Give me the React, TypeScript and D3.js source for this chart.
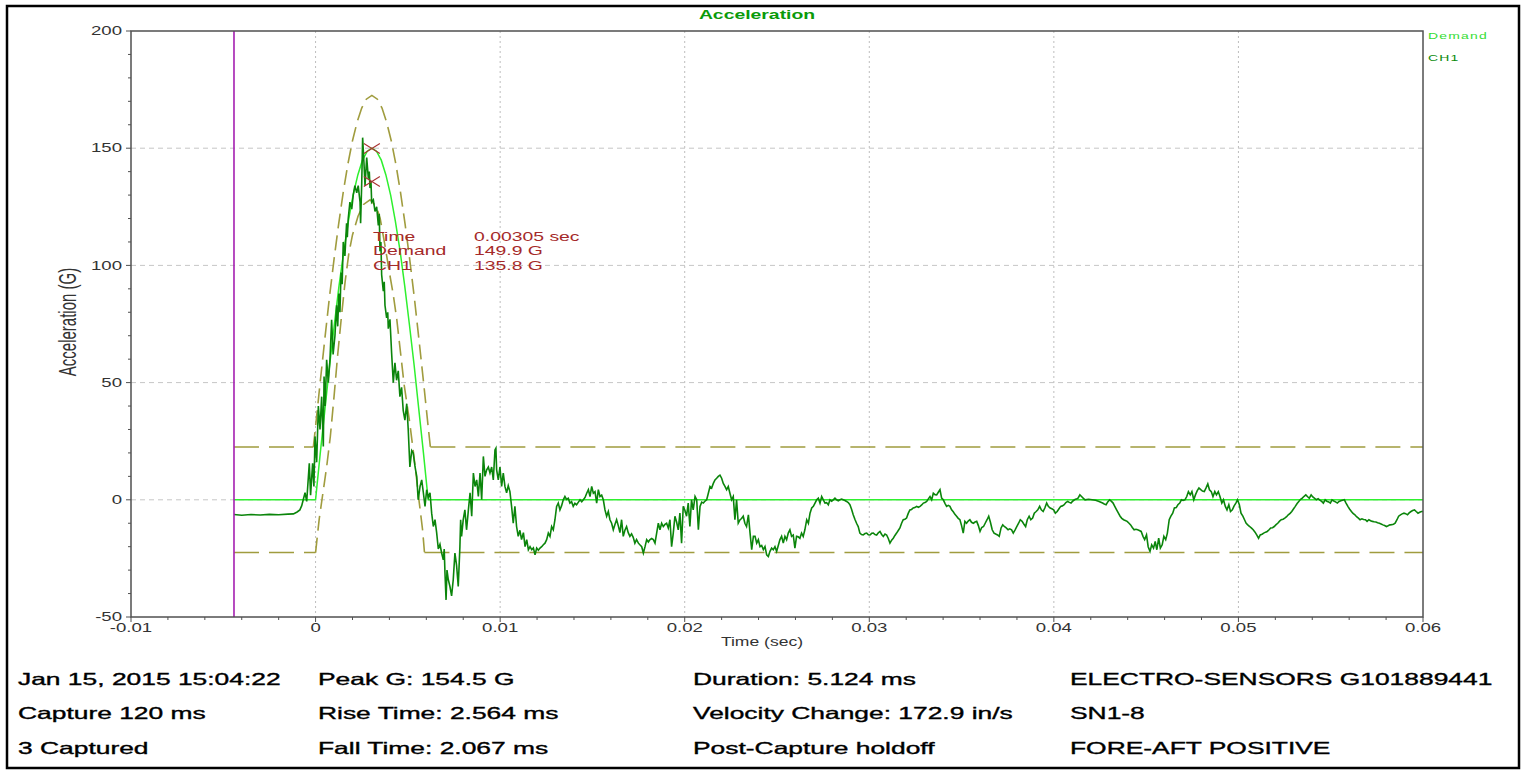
import React from "react";
import * as d3 from "d3";

// shock pulse record, time in ms, acceleration in G
const demand: [number, number][] = [
  [-4.42, 0], [0, 0], [0.25, 19.6], [0.51, 38.8], [0.76, 57.4], [1.02, 75], [1.27, 91.3],
  [1.53, 106.1], [1.78, 119], [2.03, 129.9], [2.29, 138.6], [2.54, 144.9], [2.8, 148.7],
  [3.05, 150], [3.3, 148.7], [3.56, 144.9], [3.81, 138.6], [4.07, 129.9], [4.32, 119],
  [4.58, 106.1], [4.83, 91.3], [5.08, 75], [5.34, 57.4], [5.59, 38.8], [5.85, 19.6],
  [6.1, 0], [60, 0],
];

const upperBand: [number, number][] = [
  [-0.12, 22.5], [0, 31.2], [0.25, 50.2], [0.5, 68.5], [0.75, 86.3], [1.0, 102.6],
  [1.25, 117.6], [1.5, 131.3], [1.75, 143.2], [2.0, 153.2], [2.25, 161.1], [2.5, 167.1],
  [2.75, 170.9], [3.05, 172.5], [3.35, 170.9], [3.6, 167.1], [3.85, 161.1], [4.1, 153.2],
  [4.35, 143.2], [4.6, 131.3], [4.85, 117.6], [5.1, 102.6], [5.35, 86.3], [5.6, 68.5],
  [5.85, 50.2], [6.1, 31.2], [6.22, 22.5],
];

const lowerBand: [number, number][] = [
  [0, -22.5], [0.2, -8], [0.4, 3], [0.6, 14], [0.8, 27], [1.0, 44], [1.2, 62], [1.4, 78],
  [1.6, 93], [1.8, 105], [2.0, 113], [2.3, 121], [2.6, 126], [2.95, 128], [3.3, 125],
  [3.5, 120], [3.75, 109], [4.0, 97], [4.2, 88], [4.4, 77], [4.6, 63], [4.8, 49], [5.1, 33],
  [5.4, 14], [5.6, 0], [5.8, -13], [5.9, -22.5],
];

const bandLimit = 22.5;
const captureStart = -4.42;

const ch1: [number, number][] = [
  [-4.42, -6.3], [-4.0, -6.6], [-3.5, -6.3], [-3.0, -6.5], [-2.5, -6.2], [-2.0, -6.4], [-1.5, -6.1],
  [-1.2, -6.0], [-1.0, -5.2], [-0.85, -4.3], [-0.75, -2.5], [-0.62, 1.5], [-0.57, 3], [-0.48, -0.7],
  [-0.34, 15.6], [-0.27, 2], [-0.16, 15.6], [-0.09, 5.7], [-0.03, 27], [0.06, 16], [0.15, 40],
  [0.24, 30], [0.33, 44], [0.42, 22.7], [0.46, 52.6], [0.52, 40], [0.6, 59.7], [0.69, 50],
  [0.78, 59.7], [0.87, 76.8], [0.95, 62], [1.05, 70], [1.14, 83], [1.2, 74], [1.26, 88], [1.32, 80],
  [1.38, 97], [1.44, 92], [1.5, 110], [1.59, 104], [1.68, 118], [1.72, 112], [1.77, 120], [1.86, 127],
  [1.96, 124], [2.04, 130], [2.13, 134], [2.23, 131], [2.31, 134], [2.41, 127], [2.44, 118], [2.5, 135],
  [2.55, 154.5], [2.62, 144], [2.68, 134], [2.77, 146], [2.86, 137], [2.91, 140], [2.95, 133], [3.0, 136],
  [3.04, 127], [3.13, 128], [3.22, 123], [3.31, 125], [3.4, 117], [3.45, 122], [3.49, 106], [3.54, 110],
  [3.58, 96], [3.67, 89], [3.72, 93], [3.76, 83], [3.85, 77.6], [3.91, 80], [3.94, 73], [4.03, 77],
  [4.12, 62.6], [4.21, 50], [4.3, 58.4], [4.39, 51], [4.48, 55], [4.57, 44], [4.66, 48], [4.75, 38],
  [4.84, 34], [4.94, 41], [5.02, 30], [5.11, 14], [5.21, 21], [5.29, 20], [5.39, 14], [5.48, 10],
  [5.56, 0], [5.66, 5.7], [5.75, 8.5], [5.84, 3], [5.93, -2.8], [6.02, 4.3], [6.11, 1], [6.2, 3],
  [6.29, -5.7], [6.38, -11.4], [6.47, -8.5], [6.56, -14], [6.65, -21], [6.74, -19], [6.83, -22.7],
  [6.92, -25.6], [6.97, -21], [7.01, -31], [7.07, -42.7], [7.12, -30], [7.19, -34], [7.28, -37],
  [7.37, -41], [7.46, -34], [7.55, -22.7], [7.64, -28], [7.73, -37], [7.82, -20], [7.86, -8.5],
  [7.91, -15.6], [8.0, -8.5], [8.09, -4.3], [8.18, -12.8], [8.28, -4.3], [8.37, 3], [8.46, -7],
  [8.55, 11.4], [8.64, 5.7], [8.73, 8.5], [8.82, 1.4], [8.91, 11.4], [9.0, 0], [9.09, 18.5], [9.18, 10],
  [9.27, 12.8], [9.36, 14], [9.45, 11.4], [9.54, 14], [9.63, 8.5], [9.72, 21.3], [9.77, 22], [9.81, 12.8],
  [9.9, 8.5], [9.99, 14], [10.08, 5.7], [10.17, 11.4], [10.26, 5.7], [10.35, 3], [10.44, 6], [10.53, 3.5],
  [10.62, -2.8], [10.71, -10], [10.8, -2.8], [10.89, -11.4], [10.98, -15.6], [11.07, -13], [11.16, -17],
  [11.26, -14], [11.35, -20], [11.44, -17], [11.53, -21.3], [11.62, -20], [11.71, -21.3], [11.8, -20.5],
  [11.89, -23.5], [11.98, -20.6], [12.07, -21.5], [12.16, -20.6], [12.25, -20], [12.34, -19.2],
  [12.43, -18.5], [12.52, -17], [12.61, -14.2], [12.7, -15.6], [12.79, -11.4], [12.88, -12.8],
  [12.97, -8.5], [13.06, -2.8], [13.15, -1.4], [13.24, -4.3], [13.33, -2.5], [13.42, 0], [13.51, 1.4],
  [13.6, 0.2], [13.69, 0.7], [13.78, -1.4], [13.87, -0.8], [13.96, -2.8], [14.05, -1.5], [14.14, -2.1],
  [14.24, -1], [14.33, 0], [14.42, -0.8], [14.51, 0], [14.6, 1], [14.69, 2.8], [14.78, 4.3], [14.87, 1.4],
  [14.96, 5.7], [15.05, 2.8], [15.14, 3.5], [15.23, -1.4], [15.32, 4.3], [15.41, 1.4], [15.5, 2],
  [15.59, 0], [15.68, -4.3], [15.77, -7], [15.86, -5], [15.95, -8.5], [16.04, -10], [16.13, -12.8],
  [16.22, -10.5], [16.31, -8.5], [16.4, -11], [16.49, -14], [16.58, -8.5], [16.67, -15.6], [16.76, -13],
  [16.85, -11.4], [16.94, -14], [17.03, -15.6], [17.12, -14.5], [17.21, -16], [17.3, -18.5], [17.39, -17],
  [17.49, -18.5], [17.57, -19.2], [17.67, -20], [17.76, -22.7], [17.85, -20], [17.94, -17], [18.03, -18],
  [18.12, -17], [18.21, -16.5], [18.3, -17], [18.39, -18.5], [18.48, -14.2], [18.57, -10], [18.66, -12.8],
  [18.75, -10], [18.84, -11.4], [18.93, -10.5], [19.02, -10], [19.11, -12], [19.2, -8.5], [19.29, -20],
  [19.38, -14.2], [19.47, -7], [19.56, -9.5], [19.65, -12.8], [19.74, -5.7], [19.83, -18.5], [19.92, -2.8],
  [20.01, -4.5], [20.1, -7], [20.19, -1.4], [20.28, -11.4], [20.37, 0], [20.46, -4.3], [20.56, 1.4],
  [20.65, 0], [20.74, -12.8], [20.83, -2.8], [20.92, -1], [21.01, -1.4], [21.1, -0.5], [21.19, 0],
  [21.28, 2.8], [21.37, 5.7], [21.46, 5], [21.55, 7], [21.64, 8.5], [21.73, 9.2], [21.82, 10],
  [21.91, 10.5], [22.0, 9.2], [22.09, 7], [22.18, 5.7], [22.27, 4.3], [22.36, 5.7], [22.45, 2.8],
  [22.54, 0], [22.63, 1.4], [22.72, -8.5], [22.81, 0], [22.9, -10], [23.0, -8.5], [23.08, -8],
  [23.17, -7], [23.26, -10], [23.35, -11.4], [23.45, -6.4], [23.54, -14.2], [23.63, -21.3], [23.72, -15.6],
  [23.81, -15.6], [23.9, -18.5], [23.99, -17], [24.08, -20], [24.17, -19.5], [24.26, -21.3], [24.35, -20],
  [24.44, -23.5], [24.53, -24.2], [24.62, -22], [24.71, -20.6], [24.8, -21.3], [24.89, -20], [24.98, -22],
  [25.07, -19.5], [25.16, -17], [25.25, -15.6], [25.34, -18.5], [25.43, -15.6], [25.52, -17],
  [25.61, -14.2], [25.7, -12.8], [25.79, -15.6], [25.88, -15], [25.97, -20.6], [26.06, -15.6],
  [26.15, -15.8], [26.24, -16.4], [26.33, -14.2], [26.42, -15.6], [26.51, -12.8], [26.61, -8.5],
  [26.7, -10], [26.79, -5.7], [26.88, -3.5], [26.97, -2.8], [27.06, -1.4], [27.15, 0], [27.24, 0.7],
  [27.33, -1.4], [27.42, 1.4], [27.51, 0], [27.6, -1.4], [27.69, -1.2], [27.78, -2.1], [27.87, 0],
  [27.96, -0.6], [28.05, 0], [28.14, 0.7], [28.23, 0], [28.32, -0.4], [28.41, 0], [28.5, 0.3],
  [28.59, 0], [28.68, -0.3], [28.77, -0.7], [28.86, -1.2], [28.95, -2.1], [29.04, -4], [29.13, -6.4],
  [29.22, -8.3], [29.31, -10], [29.4, -11.4], [29.49, -14.2], [29.58, -14.8], [29.67, -15], [29.77, -14.4],
  [29.86, -14.2], [29.95, -14.9], [30.04, -15], [30.13, -14.3], [30.22, -14.2], [30.31, -14.8], [30.4, -15],
  [30.49, -14.1], [30.58, -13.5], [30.67, -14.8], [30.76, -15.6], [30.85, -14.6], [30.94, -15],
  [31.03, -16.5], [31.12, -18.5], [31.21, -17.2], [31.3, -16.4], [31.39, -15.2], [31.48, -14.2],
  [31.57, -13.1], [31.66, -12], [31.75, -10], [31.84, -8.5], [31.93, -8.3], [32.02, -7.8], [32.11, -5.8],
  [32.2, -4.3], [32.29, -4.1], [32.38, -3.5], [32.47, -3.3], [32.56, -2.8], [32.66, -3.2], [32.75, -2.8],
  [32.84, -2.2], [32.93, -1.4], [33.02, -1.2], [33.11, -0.7], [33.2, 0.4], [33.29, 1.4], [33.38, 0],
  [33.47, 2.8], [33.56, 2.2], [33.65, 2.1], [33.74, 3.2], [33.83, 4.3], [33.92, 0.7], [34.01, 0],
  [34.1, -1.5], [34.19, -2.8], [34.28, -2.4], [34.37, -2.8], [34.46, -4.3], [34.55, -5.1], [34.64, -6.2],
  [34.73, -7], [34.82, -7.9], [34.91, -8.5], [35.0, -11], [35.09, -14.2], [35.18, -9.2], [35.27, -10],
  [35.36, -9.1], [35.45, -8.5], [35.54, -9.6], [35.64, -10], [35.73, -9.5], [35.82, -9.2], [35.91, -11],
  [36.0, -13.5], [36.09, -11.8], [36.19, -11.4], [36.28, -10], [36.38, -8.5], [36.47, -7], [36.56, -9.5],
  [36.66, -12.8], [36.76, -14.2], [36.85, -14.6], [36.95, -15], [37.04, -15.6], [37.14, -12], [37.23, -10.7],
  [37.33, -11.5], [37.42, -12], [37.52, -12.8], [37.61, -12.4], [37.71, -12.8], [37.8, -14.2], [37.9, -12.8],
  [37.99, -11.4], [38.09, -10], [38.18, -8.5], [38.28, -9.2], [38.37, -10.3], [38.47, -11.4], [38.56, -8.5],
  [38.66, -7], [38.75, -8.5], [38.85, -7.8], [38.94, -5.7], [39.04, -5], [39.13, -4.3], [39.23, -2.8],
  [39.32, -4.3], [39.42, -5], [39.51, -3.5], [39.61, -1.4], [39.7, -2.8], [39.8, -3.5], [39.89, -3.8],
  [39.99, -4.3], [40.08, -5.7], [40.18, -5], [40.27, -3.9], [40.37, -2.8], [40.46, -2.6], [40.56, -2.1],
  [40.65, -1.2], [40.75, -0.7], [40.84, -1.1], [40.93, -1.4], [41.03, -0.5], [41.12, 0], [41.21, 0.3],
  [41.31, 0.7], [41.41, 2.1], [41.5, 1.4], [41.6, 0.6], [41.69, 0], [41.88, 0.2], [42.07, 0], [42.26, -0.2],
  [42.45, -0.7], [42.64, -1.4], [42.73, -1.8], [42.83, -2.1], [42.92, -0.9], [43.02, 0], [43.11, -0.6],
  [43.21, -1.4], [43.3, -2.8], [43.4, -4.3], [43.49, -5.6], [43.59, -7], [43.68, -7.9], [43.78, -8.5],
  [43.87, -8.8], [43.97, -9.2], [44.06, -9.9], [44.16, -10.7], [44.25, -11.8], [44.35, -12.8],
  [44.45, -12.6], [44.54, -12.8], [44.63, -13.1], [44.73, -13.5], [44.83, -15.6], [44.92, -17], [45.02, -15],
  [45.11, -20], [45.21, -22], [45.3, -19.2], [45.4, -20.6], [45.49, -17.8], [45.58, -21.3], [45.68, -16.4],
  [45.77, -20.6], [45.87, -19.2], [45.96, -15.6], [46.06, -17], [46.15, -14.2], [46.25, -8.5], [46.34, -7],
  [46.44, -5.7], [46.53, -3.5], [46.63, -3.3], [46.72, -2.1], [46.82, -1.4], [46.91, 0], [47.0, -0.3],
  [47.1, 0], [47.2, 1.4], [47.29, 3.5], [47.39, 2.1], [47.48, 3.5], [47.58, 0], [47.67, 2.1], [47.77, 3.9],
  [47.86, 5], [47.96, 4.3], [48.05, 3.7], [48.15, 3.5], [48.24, 5], [48.34, 6.8], [48.43, 4.3], [48.53, 3.5],
  [48.62, 1.4], [48.72, 3.5], [48.81, 2.1], [48.91, 3.5], [49.0, 1.4], [49.1, -1.4], [49.19, 0],
  [49.29, -2.8], [49.38, -4.3], [49.48, -2.1], [49.57, -5], [49.67, -4.3], [49.76, -2.7], [49.86, -1.4],
  [49.95, 0], [50.05, -2.1], [50.14, -5.7], [50.24, -7], [50.33, -8.5], [50.42, -10], [50.52, -10.8],
  [50.61, -11.4], [50.71, -12.1], [50.8, -12.8], [50.9, -13.8], [50.99, -15], [51.09, -16.4], [51.18, -15],
  [51.28, -14.7], [51.37, -14.2], [51.47, -13.8], [51.56, -13.5], [51.66, -12.8], [51.75, -12],
  [51.85, -11.9], [51.94, -11.4], [52.04, -10.6], [52.13, -10], [52.23, -9.1], [52.32, -8.5], [52.42, -8.3],
  [52.51, -7.8], [52.61, -7.2], [52.7, -6.4], [52.8, -5.8], [52.89, -5], [52.99, -3.8], [53.08, -2.8],
  [53.18, -1.6], [53.27, -0.7], [53.37, 0.2], [53.46, 0.7], [53.56, 1.5], [53.65, 2.1], [53.75, 1.3],
  [53.84, 0.7], [53.94, 2.1], [54.03, 1.2], [54.13, 0.6], [54.22, 0], [54.32, 0.5], [54.41, -0.1],
  [54.51, -0.7], [54.6, -1.4], [54.7, 0], [54.79, -0.6], [54.89, -0.9], [54.98, -1.4], [55.07, 0],
  [55.17, -0.5], [55.26, -0.9], [55.36, -1.4], [55.45, -0.7], [55.55, -0.4], [55.64, -0.2], [55.74, 0],
  [55.83, -1.4], [55.93, -2.8], [56.02, -3.9], [56.12, -5], [56.21, -5.8], [56.31, -6.4], [56.4, -7.2],
  [56.5, -7.8], [56.59, -8.5], [56.69, -8.1], [56.78, -8.4], [56.88, -8.5], [56.97, -9.2], [57.07, -8.5],
  [57.16, -8.9], [57.26, -9.2], [57.35, -9.4], [57.45, -9.5], [57.54, -9.8], [57.64, -10], [57.73, -10.3],
  [57.83, -10.7], [57.92, -11], [58.02, -11.4], [58.11, -11.1], [58.21, -10.7], [58.3, -10.6],
  [58.4, -10.4], [58.49, -10], [58.59, -8.5], [58.68, -7], [58.78, -6.4], [58.87, -6], [58.97, -5.7],
  [59.06, -5.9], [59.16, -6.4], [59.25, -5.6], [59.35, -5], [59.44, -4.6], [59.54, -4.3], [59.63, -5],
  [59.73, -5.7], [59.82, -5.3], [59.92, -5], [60.0, -5],
];

const xTickValues = [-10, 0, 10, 20, 30, 40, 50, 60];
const xTickLabels = ["-0.01", "0", "0.01", "0.02", "0.03", "0.04", "0.05", "0.06"];
const yTickValues = [-50, 0, 50, 100, 150, 200];

const cursorTime = 3.05;
const cursorRows = [
  ["Time", "0.00305 sec"],
  ["Demand", "149.9 G"],
  ["CH1", "135.8 G"],
];
const cursorValues = [149.9, 135.8];

const footerCols = [
  ["Jan 15, 2015 15:04:22", "Capture 120 ms", "3 Captured"],
  ["Peak G: 154.5 G", "Rise Time: 2.564 ms", "Fall Time: 2.067 ms"],
  ["Duration: 5.124 ms", "Velocity Change: 172.9 in/s", "Post-Capture holdoff"],
  ["ELECTRO-SENSORS G101889441", "SN1-8", "FORE-AFT POSITIVE"],
];

const FONT = "'Liberation Sans', Arial, Helvetica, sans-serif";
const SX = 1.55; // the source screenshot is stretched sideways

const L = 131, R = 1423, T = 31, B = 617;

function Txt({ x, y, size, anchor = "start", fill = "#000", weight = "normal", rot = false, ls = 0, sx = SX, sw = 0, children }: any) {
  return (
    <text
      transform={`translate(${x},${y}) scale(${sx},1)${rot ? " rotate(-90)" : ""}`}
      fontSize={size}
      fontFamily={FONT}
      fontWeight={weight}
      textAnchor={anchor}
      dominantBaseline="central"
      letterSpacing={ls}
      fill={fill}
      stroke={sw ? fill : "none"}
      strokeWidth={sw}
    >
      {children}
    </text>
  );
}

export default function App() {
  const x = d3.scaleLinear().domain([-10, 60]).range([L, R]);
  const y = d3.scaleLinear().domain([-50, 200]).range([B, T]);
  const line = d3.line<[number, number]>().x(d => x(d[0])).y(d => y(d[1]));

  const xMinor = d3.range(-10, 60.001, 2);
  const yMinor = d3.range(-50, 200.001, 10);

  const bandColor = "#a09c3e";
  const flatDash = "25,10";
  const curveDash = "15,7";

  return (
    <svg width={1525} height={774} style={{ position: "absolute", left: 0, top: 0, background: "#fff" }}>
      <rect x={7} y={6} width={1512} height={762} fill="#fff" stroke="#000" strokeWidth={2.5} />

      {/* grid */}
      {xTickValues.slice(1, -1).map(v => (
        <line key={"gx" + v} x1={x(v)} x2={x(v)} y1={T} y2={B} stroke="#bdbdbd" strokeDasharray="2,3" />
      ))}
      {yTickValues.slice(1, -1).map(v => (
        <line key={"gy" + v} x1={L} x2={R} y1={y(v)} y2={y(v)} stroke="#c6c6c6" strokeDasharray="5,4" />
      ))}

      {/* tolerance bands */}
      <path d={line([[captureStart, bandLimit], upperBand[0]]) ?? ""} fill="none" stroke={bandColor} strokeWidth={1.6} strokeDasharray={flatDash} />
      <path d={line([upperBand[upperBand.length - 1], [60, bandLimit]]) ?? ""} fill="none" stroke={bandColor} strokeWidth={1.6} strokeDasharray={flatDash} />
      <path d={line(upperBand) ?? ""} fill="none" stroke={bandColor} strokeWidth={1.6} strokeDasharray={curveDash} />
      <path d={line([[captureStart, -bandLimit], lowerBand[0]]) ?? ""} fill="none" stroke={bandColor} strokeWidth={1.6} strokeDasharray={flatDash} />
      <path d={line([lowerBand[lowerBand.length - 1], [60, -bandLimit]]) ?? ""} fill="none" stroke={bandColor} strokeWidth={1.6} strokeDasharray={flatDash} />
      <path d={line(lowerBand) ?? ""} fill="none" stroke={bandColor} strokeWidth={1.6} strokeDasharray={curveDash} />

      {/* series */}
      <path d={line(demand) ?? ""} fill="none" stroke="#2ef02e" strokeWidth={1.5} />
      <path d={line(ch1) ?? ""} fill="none" stroke="#0b850b" strokeWidth={1.6} strokeLinejoin="miter" />

      {/* capture start marker */}
      <line x1={x(captureStart)} x2={x(captureStart)} y1={T} y2={B} stroke="#a41fb0" strokeWidth={1.6} />

      {/* cursor crosses */}
      {cursorValues.map(v => (
        <g key={"c" + v} stroke="#a83030" strokeWidth={1.1}>
          <line x1={x(cursorTime) - 8} x2={x(cursorTime) + 8} y1={y(v) - 5} y2={y(v) + 5} />
          <line x1={x(cursorTime) - 8} x2={x(cursorTime) + 8} y1={y(v) + 5} y2={y(v) - 5} />
        </g>
      ))}
      {cursorRows.map((r, i) => (
        <g key={r[0]}>
          <Txt x={373} y={236 + i * 14.5} size={12.5} fill="#a52a2a">{r[0]}</Txt>
          <Txt x={474} y={236 + i * 14.5} size={12.5} fill="#a52a2a">{r[1]}</Txt>
        </g>
      ))}

      {/* frame and axes */}
      <rect x={L} y={T} width={R - L} height={B - T} fill="none" stroke="#505050" strokeWidth={1.5} />
      {yMinor.map(v => (
        <line key={"ym" + v} x1={L - (v % 50 === 0 ? 5 : 3)} x2={L} y1={y(v)} y2={y(v)} stroke="#505050" />
      ))}
      {xMinor.map(v => (
        <line key={"xm" + v} x1={x(v)} x2={x(v)} y1={B} y2={B + (v % 10 === 0 ? 5 : 3)} stroke="#505050" />
      ))}
      {yTickValues.map(v => (
        <Txt key={"yl" + v} x={122} y={y(v)} size={12} anchor="end" fill="#333">{String(v)}</Txt>
      ))}
      {xTickValues.map((v, i) => (
        <Txt key={"xl" + v} x={x(v)} y={628} size={12} anchor="middle" fill="#333">{xTickLabels[i]}</Txt>
      ))}

      <Txt x={762} y={641} size={13} sx={1.35} anchor="middle" fill="#333">Time (sec)</Txt>
      <Txt x={68} y={322} size={15} anchor="middle" fill="#333" rot>Acceleration (G)</Txt>

      <Txt x={757} y={14} size={12.5} anchor="middle" fill="#0a9a0a" weight="bold">Acceleration</Txt>
      <Txt x={1428} y={36} size={9} fill="#33dd33" ls={0.8}>Demand</Txt>
      <Txt x={1428} y={58} size={9} fill="#0a8a0a" ls={0.8}>CH1</Txt>

      {/* footer */}
      {footerCols.map((col, c) =>
        col.map((s, r) => (
          <Txt key={s} x={[18, 318, 693, 1070][c]} y={679 + r * 34.5} size={16.5} sx={1.6} sw={0.35}>{s}</Txt>
        ))
      )}
    </svg>
  );
}
